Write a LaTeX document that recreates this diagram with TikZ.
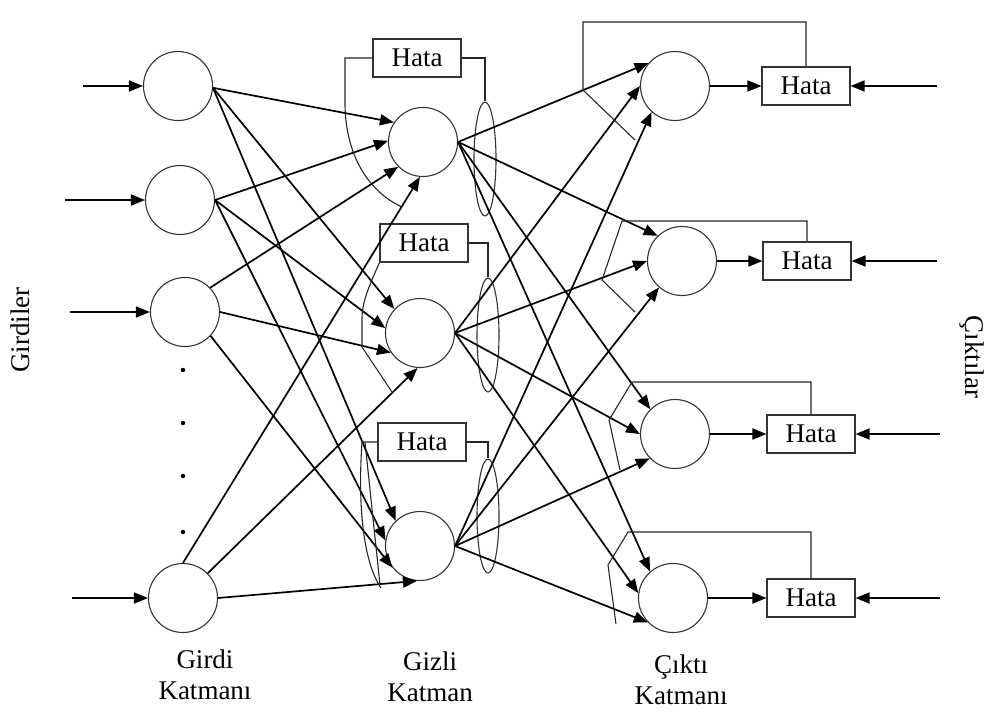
\documentclass[tikz,border=0pt]{standalone}
\usepackage{fontspec}
\setmainfont{Liberation Serif}
\usetikzlibrary{arrows.meta,shapes.geometric}
\begin{document}
\begin{tikzpicture}[x=1pt,y=-1pt,
 neuron/.style={circle,draw=black!80,line width=1.1pt,minimum size=69pt,inner sep=0pt},
 hatabox/.style={rectangle,draw=black!80,line width=1.1pt,minimum width=88pt,minimum height=38pt,inner sep=0pt,font=\fontsize{27}{30}\selectfont},
 lens/.style={ellipse,draw=black!80,line width=1.1pt,minimum width=22pt,minimum height=114pt,inner sep=0pt},
 conn/.style={line width=1.7pt,-{Triangle[length=14pt,width=11pt]}},
 fb/.style={line width=1.1pt,draw=black!85},
 dotn/.style={circle,fill=black,inner sep=0pt,minimum size=4.5pt},
 lbl/.style={font=\fontsize{27}{31}\selectfont,align=center}
]
\useasboundingbox (0,0) rectangle (987,713);

% input layer
\node[neuron] (I1) at (178,86) {};
\node[neuron] (I2) at (180,200) {};
\node[neuron] (I3) at (185,312) {};
\node[neuron] (I4) at (183,598) {};
\node[dotn] (d1) at (183,370) {};
\node[dotn] (d2) at (183,423) {};
\node[dotn] (d3) at (183,476) {};
\node[dotn] (d4) at (183,532) {};

% hidden layer
\node[neuron] (H1) at (423,142) {};
\node[neuron] (H2) at (420,333) {};
\node[neuron] (H3) at (420,546) {};

% output layer
\node[neuron] (O1) at (675,86) {};
\node[neuron] (O2) at (682,261) {};
\node[neuron] (O3) at (675,434) {};
\node[neuron] (O4) at (673,598) {};

% Hata boxes
\node[hatabox] (HH1) at (417,58) {Hata};
\node[hatabox] (HH2) at (424,243) {Hata};
\node[hatabox] (HH3) at (422,442) {Hata};
\node[hatabox] (HO1) at (806,86) {Hata};
\node[hatabox] (HO2) at (807,261) {Hata};
\node[hatabox] (HO3) at (811,434) {Hata};
\node[hatabox] (HO4) at (811,598) {Hata};

% lenses
\node[lens] (E1) at (485,159) {};
\node[lens] (E2) at (488,335) {};
\node[lens] (E3) at (488,516) {};

% free ends
\coordinate (in1) at (83,86);
\coordinate (in2) at (65,200);
\coordinate (in3) at (70,312);
\coordinate (in4) at (72,598);
\coordinate (r1) at (937,86);
\coordinate (r2) at (937,261);
\coordinate (r3) at (940,434);
\coordinate (r4) at (940,598);

% inputs
\draw[conn] (in1) -- (I1);
\draw[conn] (in2) -- (I2);
\draw[conn] (in3) -- (I3);
\draw[conn] (in4) -- (I4);

% input -> hidden
\draw[conn] (I1.357) -- (H1.146);
\draw[conn] (I1.357) -- (H2.137);
\draw[conn] (I1.357) -- (H3.134);
\draw[conn] (I2.0) -- (H1.178);
\draw[conn] (I2.0) -- (H2.172);
\draw[conn] (I2.0) -- (H3.171);
\draw[conn] (I3.44) -- (H1.225);
\draw[conn] (I3.0) -- (H2.214);
\draw[conn] (I3.317) -- (H3.218);
\draw[conn] (I4.90) -- (H1.265);
\draw[conn] (I4.45) -- (H2.266);
\draw[conn] (I4.0) -- (H3.265);

% hidden -> output
\draw[conn] (H1.0) -- (O1.139);
\draw[conn] (H1.0) -- (O2.134);
\draw[conn] (H1.0) -- (O3.135);
\draw[conn] (H1.0) -- (O4.131);
\draw[conn] (H2.0) -- (O1.180);
\draw[conn] (H2.0) -- (O2.180);
\draw[conn] (H2.0) -- (O3.180);
\draw[conn] (H2.0) -- (O4.172);
\draw[conn] (H3.0) -- (O1.228);
\draw[conn] (H3.0) -- (O2.229);
\draw[conn] (H3.0) -- (O3.224);
\draw[conn] (H3.0) -- (O4.224);

% output -> Hata, and targets
\draw[conn] (O1) -- (HO1);
\draw[conn] (O2) -- (HO2);
\draw[conn] (O3) -- (HO3);
\draw[conn] (O4) -- (HO4);
\draw[conn] (r1) -- (HO1);
\draw[conn] (r2) -- (HO2);
\draw[conn] (r3) -- (HO3);
\draw[conn] (r4) -- (HO4);

% output feedback brackets
\draw[fb] (HO1.north) |- (583,22) -- (583,90) -- (635,140);
\draw[fb] (HO2.north) |- (622,221) -- (602,280) -- (635,312);
\draw[fb] (HO3.north) |- (632,382) -- (609,420) -- (620,470);
\draw[fb] (HO4.north) |- (628,532) -- (608,565) -- (616,624);

% hidden error brackets
\draw[fb] (HH1.west) -- (345,58) -- (345,103) .. controls (345,150) and (365,190) .. (402,207);
\draw[fb] (HH1.east) -| (E1.north);
\draw[fb] (HH2.south west) .. controls (372,280) and (362,300) .. (362,318) -- (362,347) -- (392,392);
\draw[fb] (HH2.east) -| (E2.north);
\draw[fb] (HH3.west) -- (362,442) .. controls (358,500) and (362,560) .. (381,588);
\draw[fb] (365,442) -- (380,585);
\draw[fb] (HH3.east) -| (E3.north);

% labels
\node[lbl] (L1) at (205,675) {Girdi\\Katmanı};
\node[lbl] (L2) at (430,677) {Gizli\\Katman};
\node[lbl] (L3) at (681,680) {Çıktı\\Katmanı};
\node[lbl,rotate=90] (L4) at (20,330) {Girdiler};
\node[lbl,rotate=-90] (L5) at (972,357) {Çıktılar};
\end{tikzpicture}
\end{document}
